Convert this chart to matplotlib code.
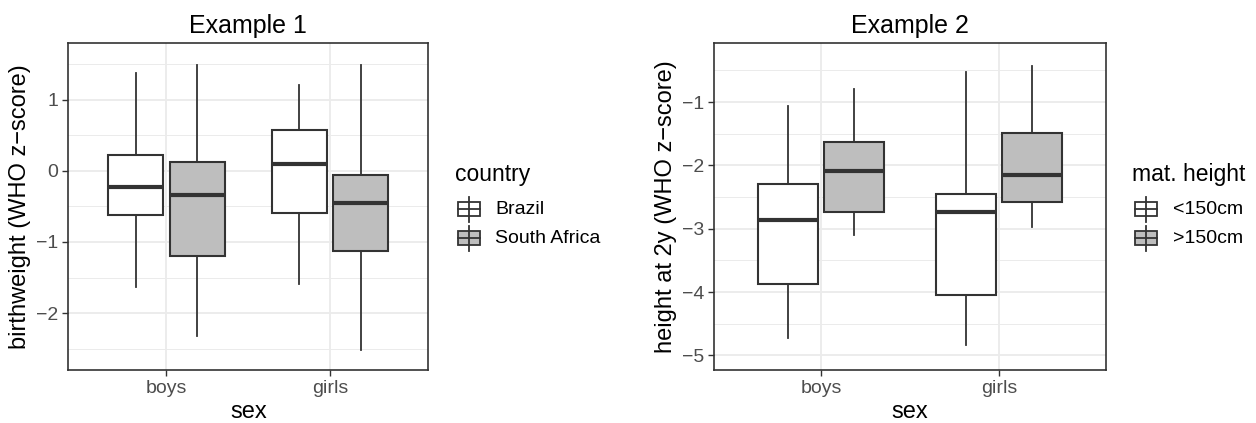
import matplotlib
matplotlib.use("Agg")
import matplotlib.pyplot as plt
from matplotlib.patches import Rectangle
from matplotlib.lines import Line2D

plt.rcParams['font.family'] = ['Liberation Sans', 'DejaVu Sans']

sexes = ['boys', 'girls']

# Example 1: birthweight by country
ex1_groups = ['Brazil', 'South Africa']
ex1_brazil_whislo = [-1.64, -1.59]
ex1_brazil_q1 = [-0.615, -0.596]
ex1_brazil_med = [-0.235, 0.099]
ex1_brazil_q3 = [0.215, 0.573]
ex1_brazil_whishi = [1.37, 1.20]

ex1_sa_whislo = [-2.32, -2.52]
ex1_sa_q1 = [-1.20, -1.13]
ex1_sa_med = [-0.338, -0.446]
ex1_sa_q3 = [0.127, -0.066]
ex1_sa_whishi = [1.48, 1.49]

# Example 2: height at 2y by maternal height
ex2_groups = ['<150cm', '>150cm']
ex2_lo_whislo = [-4.73, -4.83]
ex2_lo_q1 = [-3.87, -4.04]
ex2_lo_med = [-2.87, -2.74]
ex2_lo_q3 = [-2.30, -2.45]
ex2_lo_whishi = [-1.068, -0.52]

ex2_hi_whislo = [-3.10, -2.98]
ex2_hi_q1 = [-2.74, -2.58]
ex2_hi_med = [-2.09, -2.15]
ex2_hi_q3 = [-1.63, -1.49]
ex2_hi_whishi = [-0.79, -0.43]

FILLS = ['white', '#BEBEBE']
EDGE = '#333333'
GRID = '#EBEBEB'
TICKC = '#4D4D4D'

fig = plt.figure(figsize=(12.56, 4.23), dpi=100)
W, H = 1256, 423


def make_stats(whislo, q1, med, q3, whishi):
    return [dict(whislo=a, q1=b, med=c, q3=d, whishi=e, fliers=[])
            for a, b, c, d, e in zip(whislo, q1, med, q3, whishi)]


def draw_panel(ax, series, title, ylabel, ylim, yticks, yminor):
    ax.set_xlim(0.4, 2.6)
    ax.set_ylim(*ylim)
    for y in yminor:
        ax.axhline(y, color=GRID, lw=0.7, zorder=0)
    for y in yticks:
        ax.axhline(y, color=GRID, lw=1.3, zorder=0)
    for x in [1, 2]:
        ax.axvline(x, color=GRID, lw=1.3, zorder=0)
    offsets = [-0.1875, 0.1875]
    for i, stats in enumerate(series):
        pos = [k + 1 + offsets[i] for k in range(len(stats))]
        ax.bxp(stats, positions=pos, widths=0.3375, showcaps=False,
               showfliers=False, patch_artist=True,
               boxprops=dict(facecolor=FILLS[i], edgecolor=EDGE, linewidth=1.5),
               whiskerprops=dict(color=EDGE, linewidth=1.3),
               medianprops=dict(color=EDGE, linewidth=3.0, solid_capstyle='butt'),
               zorder=2)
    ax.set_xticks([1, 2])
    ax.set_xticklabels(sexes)
    ax.set_yticks(yticks)
    ax.set_yticklabels([str(int(v)).replace('-', '\u2212') for v in yticks])
    ax.tick_params(axis='both', colors=EDGE, labelcolor=TICKC, labelsize=14,
                   length=4, width=1.0, pad=3)
    for s in ax.spines.values():
        s.set_color(EDGE)
        s.set_linewidth(1.2)
    ax.set_title(title, fontsize=18, pad=7)
    ax.set_xlabel('sex', fontsize=17, labelpad=3)
    ax.set_ylabel(ylabel, fontsize=17, labelpad=4)


def draw_legend(title, labels, x0, y_title, y_rows, x_label):
    fig.text(x0 / W, 1 - y_title / H, title, fontsize=16.5, va='center', ha='left')
    kx0, kw, bh = x0 + 3, 22, 13.5
    for i, (lab, yc) in enumerate(zip(labels, y_rows)):
        cx = kx0 + kw / 2
        fig.add_artist(Line2D([cx / W, cx / W], [1 - (yc - 12.5) / H, 1 - (yc + 12.5) / H],
                              color=EDGE, lw=1.3, transform=fig.transFigure))
        fig.add_artist(Rectangle((kx0 / W, 1 - (yc + bh / 2) / H), kw / W, bh / H,
                                 facecolor=FILLS[i], edgecolor=EDGE, lw=1.3,
                                 transform=fig.transFigure))
        fig.add_artist(Line2D([kx0 / W, (kx0 + kw) / W], [1 - yc / H, 1 - yc / H],
                              color=EDGE, lw=1.3, transform=fig.transFigure))
        fig.text(x_label / W, 1 - yc / H, lab, fontsize=14, va='center', ha='left')


ax1 = fig.add_axes([68.3 / W, 53 / H, 360 / W, 327.3 / H])
draw_panel(ax1,
           [make_stats(ex1_brazil_whislo, ex1_brazil_q1, ex1_brazil_med, ex1_brazil_q3, ex1_brazil_whishi),
            make_stats(ex1_sa_whislo, ex1_sa_q1, ex1_sa_med, ex1_sa_q3, ex1_sa_whishi)],
           'Example 1', 'birthweight (WHO z\u2212score)', (-2.80, 1.80),
           [-2, -1, 0, 1], [-2.5, -1.5, -0.5, 0.5, 1.5])

ax2 = fig.add_axes([714.3 / W, 53 / H, 391.4 / W, 327.3 / H])
draw_panel(ax2,
           [make_stats(ex2_lo_whislo, ex2_lo_q1, ex2_lo_med, ex2_lo_q3, ex2_lo_whishi),
            make_stats(ex2_hi_whislo, ex2_hi_q1, ex2_hi_med, ex2_hi_q3, ex2_hi_whishi)],
           'Example 2', 'height at 2y (WHO z\u2212score)', (-5.23, -0.064),
           [-5, -4, -3, -2, -1], [-4.5, -3.5, -2.5, -1.5, -0.5])

draw_legend('country', ex1_groups, 455, 174, [209, 238], 495)
draw_legend('mat. height', ex2_groups, 1132, 174, [209, 238], 1173)

fig.savefig('out.png', dpi=100)
